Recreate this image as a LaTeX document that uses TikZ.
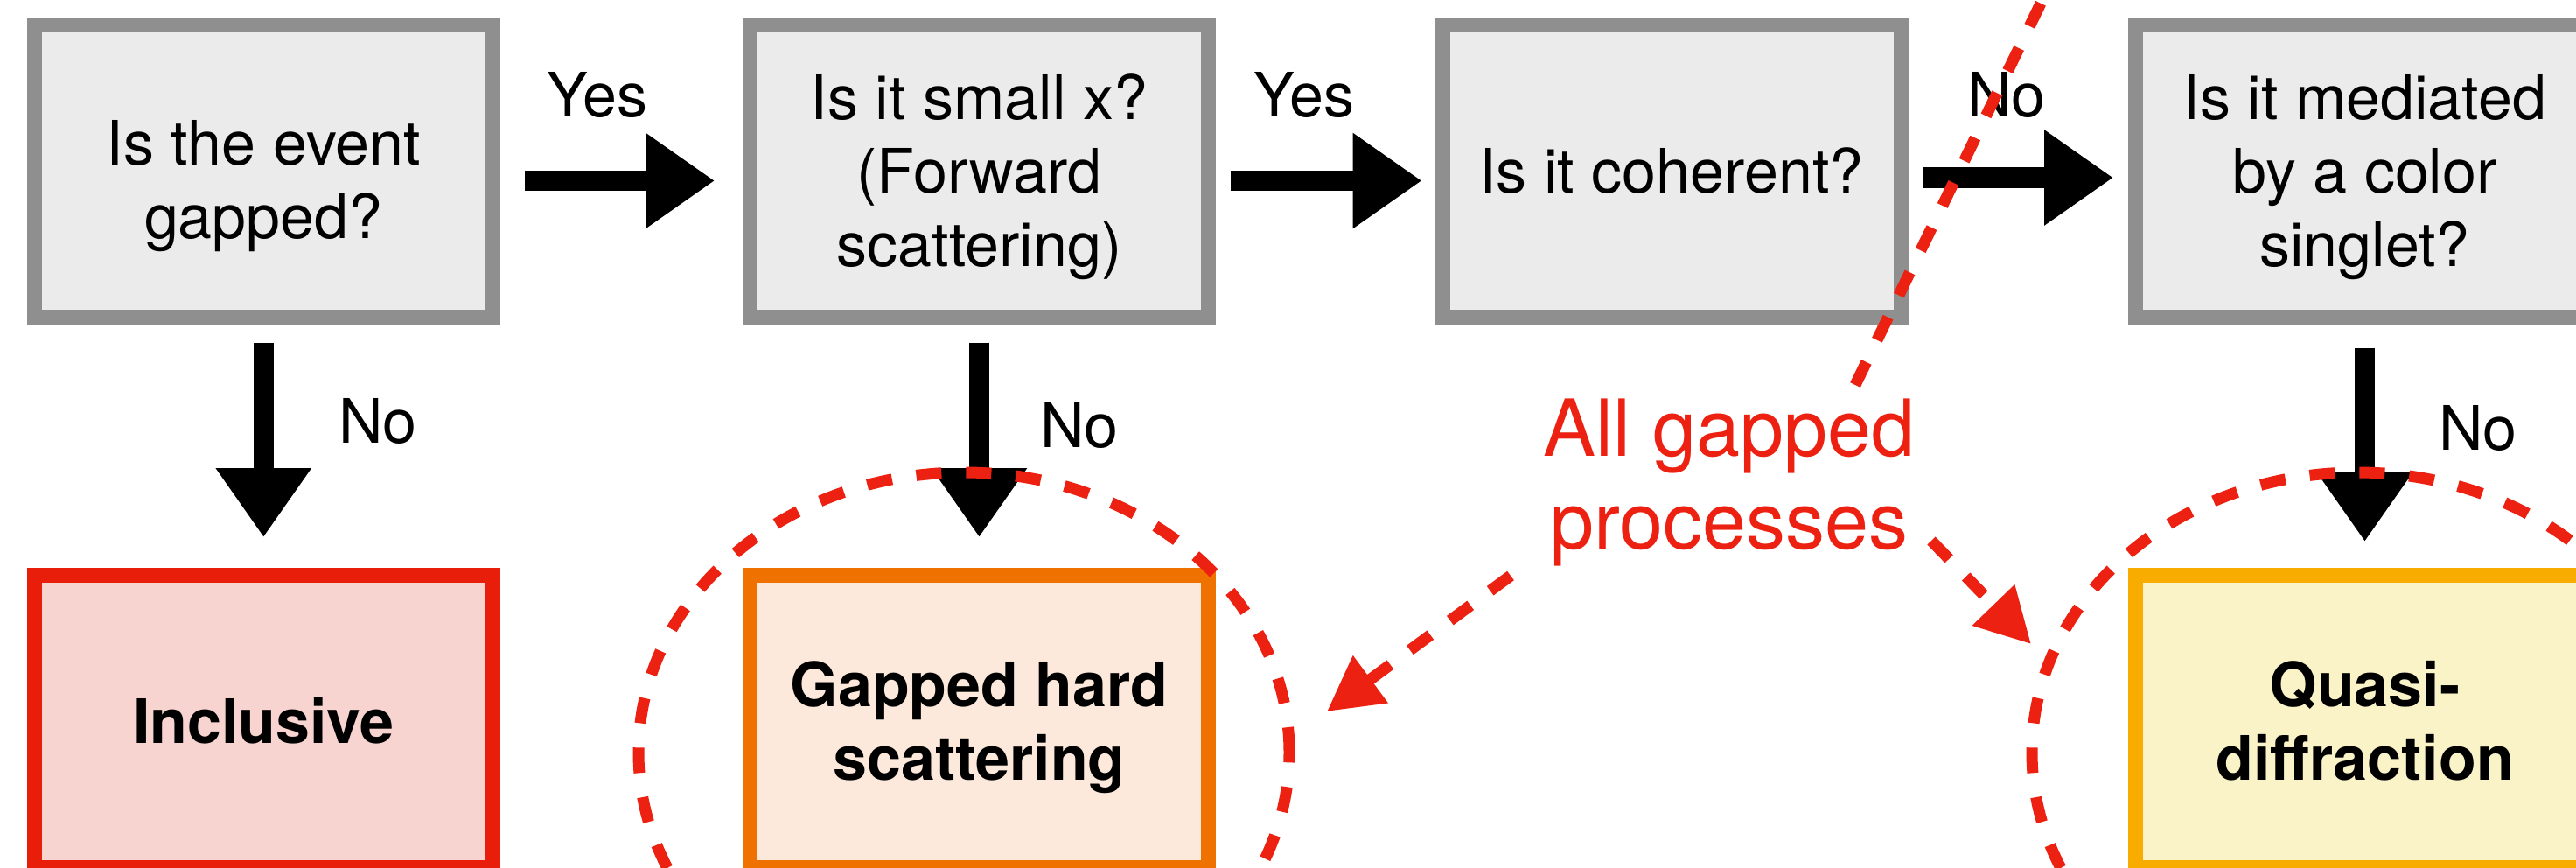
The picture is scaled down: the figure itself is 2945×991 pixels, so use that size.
\documentclass[tikz,border=0pt]{standalone}
\usepackage{fontspec}
\setmainfont{TeX Gyre Heros}
\usetikzlibrary{arrows.meta,shapes.geometric}

\definecolor{boxgray}{HTML}{8F8F8F}
\definecolor{boxfill}{HTML}{EBEBEB}
\definecolor{incred}{HTML}{E81E0B}
\definecolor{incfill}{HTML}{F8D4D0}
\definecolor{hardor}{HTML}{EF7100}
\definecolor{hardfill}{HTML}{FDE9DB}
\definecolor{quasiy}{HTML}{F9AC00}
\definecolor{quasifill}{HTML}{FAF3C8}
\definecolor{redc}{HTML}{ED2111}

% invisible rule fixing height and depth of a text line
\newcommand\tstrut[2]{\rule[-#2]{0pt}{\dimexpr#1+#2\relax}}
\newcommand\lnstrut{\tstrut{66pt}{16pt}}
\newcommand\rdstrut{\tstrut{76pt}{22pt}}

\begin{document}
\begin{tikzpicture}[x=1pt,y=-1pt,
  qbox/.style={draw=boxgray, fill=boxfill, line width=17pt,
    minimum width=524pt, minimum height=334pt, inner sep=0pt,
    align=center, font=\fontsize{70}{84}\selectfont},
  rbox/.style={qbox, font=\bfseries\fontsize{70}{84}\selectfont},
  lbl/.style={font=\fontsize{70}{84}\selectfont, inner sep=0pt, anchor=base},
  harrow/.style={line width=23.5pt, -{Triangle[length=79pt,width=104pt]}},
  reddash/.style={draw=redc, line width=13pt, dash pattern=on 29pt off 28pt},
  redell/.style={ellipse, reddash, minimum width=744pt, minimum height=640pt, inner sep=0pt},
  redtxt/.style={text=redc, font=\fontsize{90}{106}\selectfont, align=center, inner sep=0pt},
  redarrow/.style={reddash, -{Triangle[length=62pt,width=64pt]}},
]
\useasboundingbox (0,0) rectangle (2945,991);
\fill[white] (0,0) rectangle (2945,991);
\clip (0,0) rectangle (2945,991);

% question boxes
\node[qbox] (q1) at (301.3,195) {\tstrut{86pt}{16pt}Is the event\\\lnstrut gapped?};
\node[qbox] (q2) at (1119.5,195) {\lnstrut Is it small x?\\\lnstrut(Forward\\\lnstrut scattering)};
\node[qbox] (q3) at (1911,195) {\lnstrut Is it coherent?};
\node[qbox] (q4) at (2703.5,195) {\lnstrut Is it mediated\\\lnstrut by a color\\\lnstrut singlet?};

% outcome boxes
\node[rbox, draw=incred, fill=incfill] (r1) at (301.3,824.5) {\lnstrut Inclusive};
\node[rbox, draw=hardor, fill=hardfill] (r2) at (1119.5,824.5) {\lnstrut Gapped hard\\\lnstrut scattering};
\node[rbox, draw=quasiy, fill=quasifill] (r3) at (2703.5,824.5) {\lnstrut Quasi-\\\lnstrut diffraction};

% decision arrows
\draw[harrow, shorten <=28pt, shorten >=32pt] ([yshift=-11.5pt]q1.east) -- ([yshift=-11.5pt]q2.west);
\draw[harrow, shorten <=17pt, shorten >=15pt] ([yshift=-11.5pt]q2.east) -- ([yshift=-11.5pt]q3.west);
\draw[harrow, shorten <=17pt, shorten >=17pt] ([yshift=-8pt]q3.east) -- ([yshift=-8pt]q4.west);
\draw[harrow, shorten <=21pt, shorten >=35pt] (q1.south) -- (r1.north);
\draw[harrow, shorten <=21pt, shorten >=35pt] (q2.south) -- (r2.north);
\draw[harrow, shorten <=27pt, shorten >=30pt] (q4.south) -- (r3.north);

% arrow labels
\node[lbl] (y1) at (683,133) {Yes};
\node[lbl] (y2) at (1491,133) {Yes};
\node[lbl] (n3) at (2294,133) {No};
\node[lbl] (n1) at (432,506) {No};
\node[lbl] (n2) at (1234,511) {No};
\node[lbl] (n4) at (2833,514) {No};

% gapped processes annotation
\node[redell] (c1) at (1102,860) {};
\node[redell] (c2) at (2695,860) {};
\node[redtxt] (gp) at (1977,547) {\rdstrut All gapped\\\rdstrut processes};

\coordinate (pl) at (1727,658);
\coordinate (pltip) at (1517,813);
\coordinate (pr) at (2208,618);
\coordinate (prtip) at (2322,736);
\coordinate (dbot) at (2121,440);
\coordinate (dtop) at (2347,-25);

\draw[redarrow] (pl) -- (pltip);
\draw[redarrow] (pr) -- (prtip);
\draw[reddash] (dbot) -- (dtop);
\end{tikzpicture}
\end{document}
